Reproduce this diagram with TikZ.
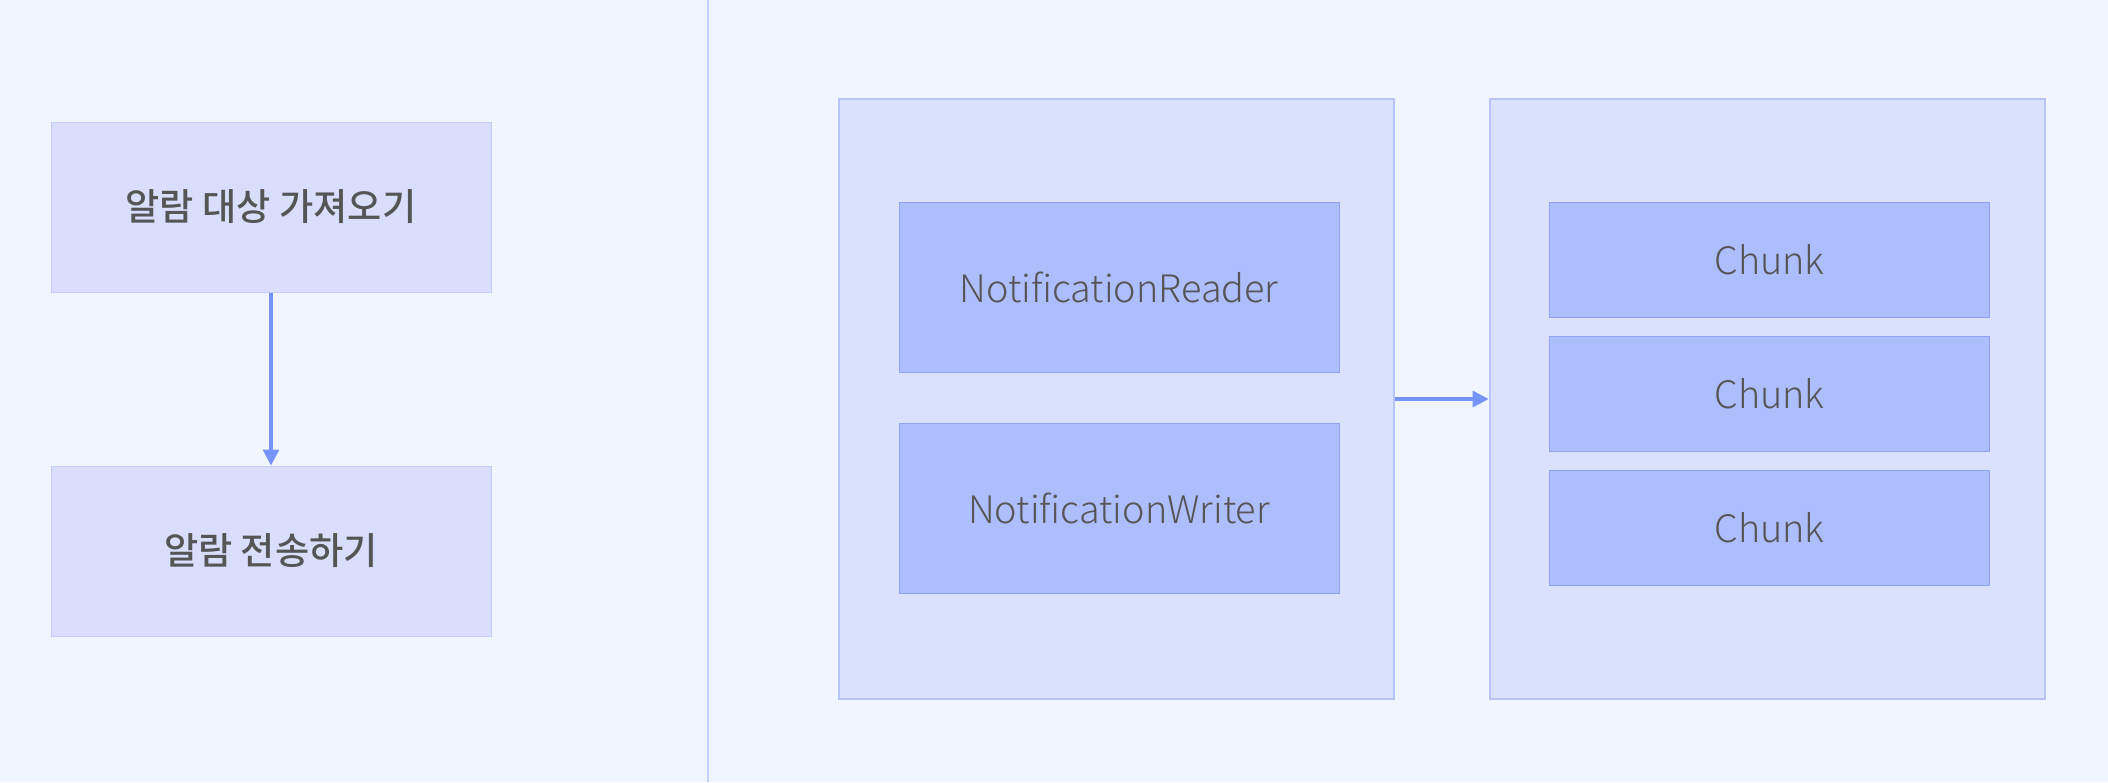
\documentclass[tikz,border=0pt]{standalone}
\usepackage{fontspec}
\newfontfamily\krfont{Noto Sans CJK KR Medium}
\newfontfamily\ltfont{Noto Sans CJK KR Light}
\usetikzlibrary{arrows.meta}
\definecolor{bgc}{HTML}{F1F5FF}
\definecolor{leftfill}{HTML}{D8DEFC}
\definecolor{leftdraw}{HTML}{C4CEFB}
\definecolor{clfill}{HTML}{DAE1FC}
\definecolor{cldraw}{HTML}{B6C4FB}
\definecolor{infill}{HTML}{ADBEFD}
\definecolor{indraw}{HTML}{8FA4F5}
\definecolor{arrc}{HTML}{7593F8}
\definecolor{divc}{HTML}{C5CFFB}
\definecolor{txt}{HTML}{555555}
\tikzset{
  leftbox/.style={draw=leftdraw, fill=leftfill, line width=0.5pt, minimum width=220pt, minimum height=85pt, inner sep=0pt, text=txt, font=\krfont\fontsize{18.6pt}{22pt}\selectfont},
  cluster/.style={draw=cldraw, fill=clfill, line width=1.4pt, minimum width=277.5pt, minimum height=300pt, inner sep=0pt},
  inbox/.style={draw=indraw, fill=infill, line width=0.5pt, minimum width=220pt, inner sep=0pt, text=txt, font=\ltfont\fontsize{18.9pt}{23pt}\selectfont},
  conn/.style={draw=arrc, line width=1.6pt, -{Triangle[length=8pt,width=8pt]}},
}
\begin{document}
\begin{tikzpicture}[x=0.5pt,y=-0.5pt]
\fill[bgc] (0,0) rectangle (2108,782);
\useasboundingbox (0,0) rectangle (2108,782);
\coordinate (dtop) at (708,0);
\coordinate (dbot) at (708,782);
\draw[divc, line width=0.8pt] (dtop) -- (dbot);
\node[leftbox] (fetch) at (271,207) {알람 대상 가져오기};
\node[leftbox] (send) at (271,551) {알람 전송하기};
\draw[conn] (fetch) -- (send);
\node[cluster] (c1) at (1116.5,399) {};
\node[cluster] (c2) at (1767.5,399) {};
\node[inbox, minimum height=85pt] (reader) at (1119,287.5) {NotificationReader};
\node[inbox, minimum height=85pt] (writer) at (1119,508) {NotificationWriter};
\node[inbox, minimum height=57.5pt] (ch1) at (1769.5,260) {Chunk};
\node[inbox, minimum height=57.5pt] (ch2) at (1769.5,393.5) {Chunk};
\node[inbox, minimum height=57.5pt] (ch3) at (1769.5,527.5) {Chunk};
\draw[conn] (c1.east) -- (c2.west);
\end{tikzpicture}
\end{document}
